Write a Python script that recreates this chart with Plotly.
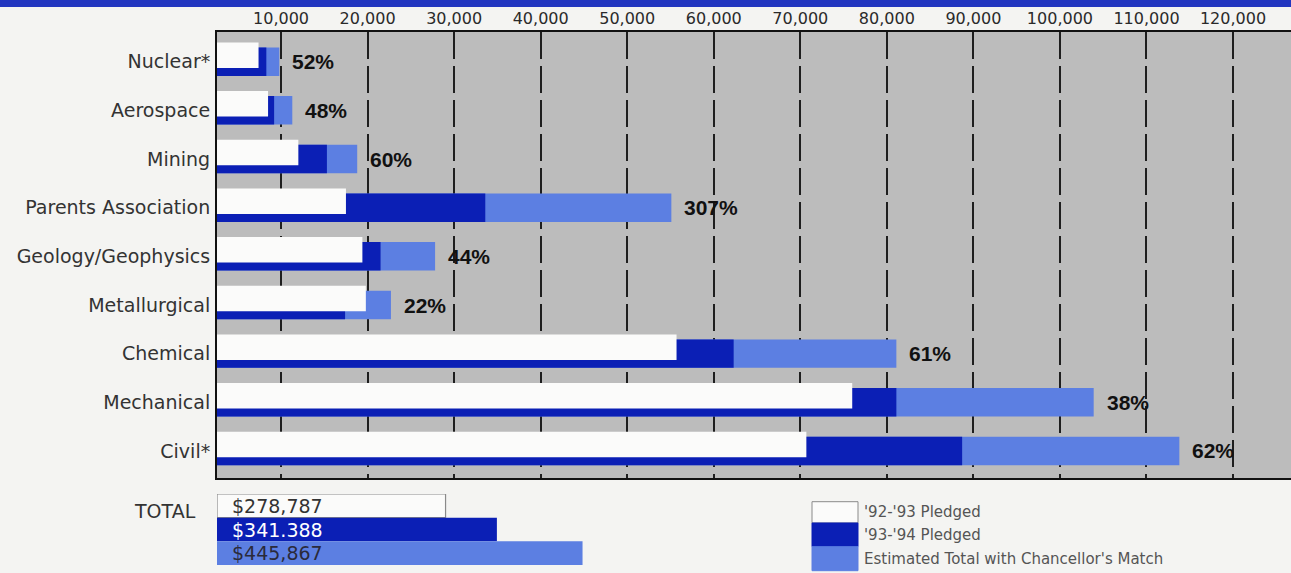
import plotly.graph_objects as go

# ---------------- data ----------------
categories = ["Nuclear*", "Aerospace", "Mining", "Parents Association",
              "Geology/Geophysics", "Metallurgical", "Chemical", "Mechanical", "Civil*"]
pledged_92_93 = [7400, 8500, 12000, 17500, 19400, 19800, 55700, 76000, 70700]
pledged_93_94 = [8300, 9200, 15300, 33600, 21500, 17400, 62300, 81100, 88700]
estimated_total = [9800, 11300, 18800, 55100, 27800, 22700, 81100, 103900, 113800]
pct_labels = ["52%", "48%", "60%", "307%", "44%", "22%", "61%", "38%", "62%"]

x_ticks = [10000, 20000, 30000, 40000, 50000, 60000, 70000, 80000, 90000, 100000, 110000, 120000]

total_names = ["'92-'93 Pledged", "'93-'94 Pledged", "Estimated Total with Chancellor's Match"]
total_values = [278787, 341388, 445867]
total_labels = ["$278,787", "$341.388", "$445,867"]

# ---------------- style ----------------
W, H = 1291, 573
ML, MR, MT, MB = 217, 0, 32, 8
PW, PH = W - ML - MR, H - MT - MB

C_WHITE = "#fbfbfa"
C_DARK = "#0b1fb5"
C_LIGHT = "#5c7fe2"
C_PLOT = "#bcbcbc"
C_PAPER = "#f4f4f2"
FONT = "DejaVu Sans"


def py(pix):  # pixel row -> paper y
    return (H - MB - pix) / PH


def px(pix):  # pixel col -> paper x
    return (pix - ML) / PW


y_idx = list(range(len(categories)))

fig = go.Figure()
fig.add_trace(go.Bar(orientation="h", y=y_idx, x=estimated_total, width=0.585, offset=-0.293,
                     marker=dict(color=C_LIGHT, line=dict(width=0)), name=total_names[2],
                     xaxis="x", yaxis="y"))
fig.add_trace(go.Bar(orientation="h", y=y_idx, x=pledged_93_94, width=0.585, offset=-0.293,
                     marker=dict(color=C_DARK, line=dict(width=0)), name=total_names[1],
                     xaxis="x", yaxis="y"))
fig.add_trace(go.Bar(orientation="h", y=y_idx, x=pledged_92_93, width=0.524, offset=-0.396,
                     marker=dict(color=C_WHITE, line=dict(width=0)), name=total_names[0],
                     xaxis="x", yaxis="y"))

# totals
fig.add_trace(go.Bar(orientation="h", y=[0, 1, 2], x=total_values, width=1,
                     marker=dict(color=[C_WHITE, C_DARK, C_LIGHT],
                                 line=dict(color=["#8a8a8a", C_DARK, C_LIGHT], width=[1.2, 0, 0])),
                     xaxis="x2", yaxis="y2", showlegend=False))

annotations = []
for i, lab in enumerate(pct_labels):
    annotations.append(dict(x=estimated_total[i], y=i, xref="x", yref="y", text="<b>" + lab + "</b>",
                            showarrow=False, xanchor="left", yanchor="middle", xshift=11,
                            font=dict(family="Liberation Sans", size=21, color="#111")))

tot_colors = ["#333333", "#ffffff", "#2a2a3a"]
for i, lab in enumerate(total_labels):
    annotations.append(dict(x=0, y=i, xref="x2", yref="y2", text=lab, showarrow=False,
                            xanchor="left", yanchor="middle", xshift=13,
                            font=dict(family=FONT, size=19, color=tot_colors[i])))

annotations.append(dict(x=px(198), y=py(511), xref="paper", yref="paper", text="TOTAL",
                        showarrow=False, xanchor="right", yanchor="middle",
                        font=dict(family=FONT, size=19, color="#333")))

shapes = []
# grey plotting area of the main chart (below gridlines)
shapes.append(dict(type="rect", xref="x domain", yref="y domain", x0=0, x1=1, y0=0, y1=1,
                   fillcolor=C_PLOT, line=dict(width=0), layer="below"))
# top blue band
shapes.append(dict(type="rect", xref="paper", yref="paper", x0=px(-5), x1=px(W + 5),
                   y0=py(7), y1=py(-5), fillcolor="#2236c0", line=dict(width=0), layer="above"))
# legend swatches
leg_rows = [(501.7, 523.0), (523.0, 546.7), (546.7, 570.7)]
leg_fill = [C_WHITE, C_DARK, C_LIGHT]
leg_line = ["#8a8a8a", C_DARK, C_LIGHT]
for (t, b), fc, lc, name in zip(leg_rows, leg_fill, leg_line, total_names):
    shapes.append(dict(type="rect", xref="paper", yref="paper", x0=px(812), x1=px(858),
                       y0=py(b), y1=py(t), fillcolor=fc, line=dict(color=lc, width=1)))
    annotations.append(dict(x=px(862), y=py((t + b) / 2), xref="paper", yref="paper",
                            text=name, showarrow=False, xanchor="left", yanchor="middle",
                            font=dict(family=FONT, size=15, color="#555")))

fig.update_layout(
    width=W, height=H,
    margin=dict(l=ML, r=MR, t=MT, b=MB, pad=0),
    paper_bgcolor=C_PAPER, plot_bgcolor="rgba(0,0,0,0)",
    barmode="overlay", showlegend=False,
    annotations=annotations, shapes=shapes,
    xaxis=dict(domain=[0, 1], range=[2600, 126700], side="top", tickvals=x_ticks,
               tickformat=",d", tickfont=dict(family=FONT, size=16, color="#2a2a2a"),
               showgrid=True, gridcolor="#1e1e1e", gridwidth=1.6, griddash="27px,7px",
               showline=True, linecolor="#111", linewidth=2, mirror=True,
               zeroline=False, ticks="", anchor="y", ticklabelstandoff=0),
    yaxis=dict(domain=[py(478), 1], range=[8.555, -0.61], tickvals=y_idx, ticktext=categories,
               tickfont=dict(family=FONT, size=19, color="#333"), showgrid=False,
               showline=True, linecolor="#111", linewidth=2, zeroline=False, ticks="",
               ticklabelstandoff=1, anchor="x"),
    xaxis2=dict(domain=[0, 1], range=[0, 1310000], anchor="y2", visible=False),
    yaxis2=dict(domain=[0, py(494)], range=[2.5, -0.5], anchor="x2", visible=False),
)

fig.write_html("out.html")
